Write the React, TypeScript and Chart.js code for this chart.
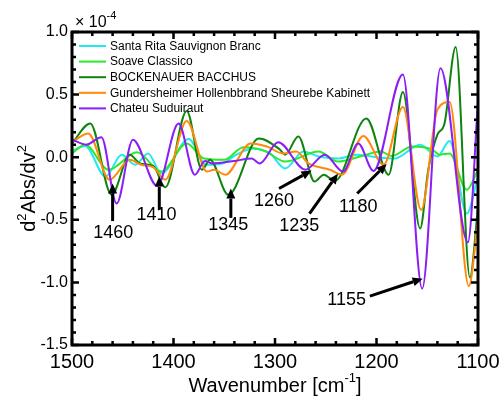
import React, { useEffect, useRef } from "react";
import { Chart, registerables } from "chart.js";
Chart.register(...registerables);

const seriesNames = [
  "Santa Rita Sauvignon Branc",
  "Soave Classico",
  "BOCKENAUER BACCHUS",
  "Gundersheimer Hollenbbrand Sheurebe Kabinett",
  "Chateu Suduiraut",
];
const seriesColors = ["#22E8F0", "#2EE82E", "#0E840E", "#FF8A0A", "#8A1EF5"];

const cyanWn = [1500, 1487, 1467, 1451, 1438, 1425, 1412, 1385, 1368, 1352, 1338, 1322, 1305, 1290, 1272, 1257, 1237, 1220, 1200, 1182, 1157, 1140, 1128, 1111, 1100];
const cyanVal = [0.05, 0.09, -0.155, 0.02, -0.06, 0.03, -0.13, 0.145, -0.06, -0.05, 0.02, 0.07, 0.03, -0.09, 0.045, 0.005, -0.01, 0.02, 0.0, -0.01, 0.10, 0.005, 0.13, -0.45, -0.15];

const lgreenWn = [1500, 1487, 1464, 1436, 1412, 1387, 1370, 1350, 1331, 1310, 1290, 1257, 1238, 1216, 1196, 1185, 1165, 1145, 1138, 1128, 1111, 1100];
const lgreenVal = [0.03, 0.10, -0.10, 0.04, -0.115, 0.11, -0.01, -0.02, 0.08, 0.05, -0.035, 0.045, -0.035, 0.005, 0.045, 0.01, 0.085, 0.06, 0.02, 0.03, -0.26, -0.1];

const dgreenWn = [1500, 1482, 1461, 1443, 1433, 1420, 1408, 1387, 1372, 1364, 1346, 1316, 1295, 1290, 1277, 1261, 1252, 1241, 1210, 1188, 1174, 1157, 1149, 1140, 1133, 1122, 1108, 1100];
const dgreenVal = [0.11, 0.27, -0.30, 0.02, -0.05, -0.07, -0.24, 0.37, -0.10, -0.02, -0.30, 0.15, 0.06, 0.02, 0.165, -0.195, -0.14, -0.19, 0.31, -0.14, 0.52, -0.57, -0.1, 0.18, 0.27, 0.88, -0.96, -0.4];

const orangeWn = [1500, 1484, 1463, 1443, 1432, 1420, 1408, 1387, 1367, 1360, 1349, 1324, 1308, 1292, 1279, 1267, 1246, 1234, 1213, 1193, 1174, 1156, 1140, 1128, 1109, 1100];
const orangeVal = [0.12, 0.19, -0.18, -0.02, -0.06, -0.08, -0.18, 0.29, -0.115, -0.10, -0.14, 0.11, 0.085, 0.03, 0.045, -0.05, -0.10, -0.14, 0.17, -0.06, 0.40, -0.42, 0.38, 0.44, -1.03, -0.5];

const purpleWn = [1500, 1486, 1471, 1456, 1440, 1416, 1395, 1379, 1369, 1362, 1340, 1323, 1315, 1297, 1270, 1251, 1233, 1218, 1203, 1174, 1155, 1137, 1110, 1100];
const purpleVal = [0.14, 0.10, 0.16, -0.37, 0.14, -0.23, 0.27, -0.14, -0.03, -0.05, -0.03, -0.01, -0.05, 0.12, -0.10, 0.02, -0.115, 0.11, -0.11, 0.66, -1.05, 0.71, -0.68, 0.45];

const xTickValues = [1500, 1400, 1300, 1200, 1100];
const yTickValues = [1.0, 0.5, 0, -0.5, -1.0, -1.5];
const yTickLabels = ["1.0", "0.5", "0.0", "-0.5", "-1.0", "-1.5"];

const annLabels = ["1460", "1410", "1345", "1260", "1235", "1180", "1155"];
const annTipX = [1460, 1414, 1343.5, 1264, 1238, 1190, 1154.5];
const annTipY = [-0.21, -0.155, -0.25, -0.107, -0.133, -0.054, -0.97];
const annTailX = [1460, 1414, 1343.5, 1296, 1266, 1219, 1206.5];
const annTailY = [-0.51, -0.42, -0.485, -0.25, -0.45, -0.29, -1.11];
const annTextX = [1459.3, 1416.8, 1346, 1301, 1276, 1218, 1229.5];
const annTextY = [-0.607, -0.465, -0.54, -0.35, -0.55, -0.4, -1.14];

const FONT = "'Liberation Sans', Arial, Helvetica, sans-serif";

function toPoints(xs: number[], ys: number[]) {
  return xs.map((x, i) => ({ x, y: ys[i] }));
}

const decorPlugin = {
  id: "decor",
  afterDatasetsDraw(chart: any) {
    const ctx = chart.ctx as CanvasRenderingContext2D;
    const { left, right, top, bottom } = chart.chartArea;
    const xs = chart.scales.x;
    const ys = chart.scales.y;
    ctx.save();
    // annotations
    ctx.strokeStyle = "#000";
    ctx.fillStyle = "#000";
    for (let i = 0; i < annLabels.length; i++) {
      const tx = xs.getPixelForValue(annTipX[i]);
      const ty = ys.getPixelForValue(annTipY[i]);
      const sx = xs.getPixelForValue(annTailX[i]);
      const sy = ys.getPixelForValue(annTailY[i]);
      const ang = Math.atan2(ty - sy, tx - sx);
      const hl = 10, hw = 4.5;
      const bx = tx - hl * Math.cos(ang);
      const by = ty - hl * Math.sin(ang);
      ctx.lineWidth = 3;
      ctx.beginPath();
      ctx.moveTo(sx, sy);
      ctx.lineTo(bx, by);
      ctx.stroke();
      ctx.beginPath();
      ctx.moveTo(tx, ty);
      ctx.lineTo(bx + hw * Math.sin(ang), by - hw * Math.cos(ang));
      ctx.lineTo(bx - hw * Math.sin(ang), by + hw * Math.cos(ang));
      ctx.closePath();
      ctx.fill();
      ctx.font = `18px ${FONT}`;
      ctx.textAlign = "center";
      ctx.textBaseline = "middle";
      ctx.fillText(annLabels[i], xs.getPixelForValue(annTextX[i]), ys.getPixelForValue(annTextY[i]));
    }
    // frame
    ctx.lineWidth = 3;
    ctx.strokeRect(left, top, right - left, bottom - top);
    // ticks
    ctx.lineWidth = 2.5;
    for (let v = 1100; v <= 1500; v += 20) {
      const p = xs.getPixelForValue(v);
      const len = v % 100 === 0 ? 7 : 4;
      ctx.beginPath();
      ctx.moveTo(p, bottom);
      ctx.lineTo(p, bottom - len);
      ctx.moveTo(p, top);
      ctx.lineTo(p, top + len);
      ctx.stroke();
    }
    for (let k = -15; k <= 10; k++) {
      const p = ys.getPixelForValue(k / 10);
      const len = k % 5 === 0 ? 7 : 4;
      ctx.beginPath();
      ctx.moveTo(left, p);
      ctx.lineTo(left + len, p);
      ctx.moveTo(right, p);
      ctx.lineTo(right - len, p);
      ctx.stroke();
    }
    // legend
    ctx.font = `12px ${FONT}`;
    ctx.textAlign = "left";
    ctx.textBaseline = "middle";
    chart.data.datasets.forEach((ds: any, i: number) => {
      const y = top + 14 + i * 15.6;
      ctx.strokeStyle = ds.borderColor;
      ctx.lineWidth = 2;
      ctx.beginPath();
      ctx.moveTo(left + 7, y);
      ctx.lineTo(left + 34, y);
      ctx.stroke();
      ctx.fillStyle = "#000";
      ctx.fillText(ds.label, left + 38, y + 0.5);
    });
    // multiplier
    ctx.fillStyle = "#000";
    ctx.font = `16px ${FONT}`;
    ctx.textBaseline = "alphabetic";
    ctx.fillText("\u00d7 10", left + 3, top - 5);
    const w = ctx.measureText("\u00d7 10").width;
    ctx.font = `11px ${FONT}`;
    ctx.fillText("-4", left + 3 + w, top - 13);
    // x title
    const cx = (left + right) / 2;
    const t1 = "Wavenumber [cm";
    const t2 = "-1";
    const t3 = "]";
    ctx.font = `20px ${FONT}`;
    const w1 = ctx.measureText(t1).width;
    const w3 = ctx.measureText(t3).width;
    ctx.font = `13px ${FONT}`;
    const w2 = ctx.measureText(t2).width;
    const x0 = cx - (w1 + w2 + w3) / 2;
    const by = 392;
    ctx.font = `20px ${FONT}`;
    ctx.fillText(t1, x0, by);
    ctx.font = `13px ${FONT}`;
    ctx.fillText(t2, x0 + w1, by - 10);
    ctx.font = `20px ${FONT}`;
    ctx.fillText(t3, x0 + w1 + w2, by);
    // y title
    ctx.translate(35, (top + bottom) / 2);
    ctx.rotate(-Math.PI / 2);
    const parts: [string, number, number][] = [
      ["d", 20, 0], ["2", 13, -9], ["Abs/dv", 20, 0], ["2", 13, -9],
    ];
    let tw = 0;
    for (const [s, f] of parts) { ctx.font = `${f}px ${FONT}`; tw += ctx.measureText(s).width; }
    let xx = -tw / 2;
    for (const [s, f, dy] of parts) {
      ctx.font = `${f}px ${FONT}`;
      ctx.fillText(s, xx, dy);
      xx += ctx.measureText(s).width;
    }
    ctx.restore();
  },
};

export default function App() {
  const ref = useRef<HTMLCanvasElement | null>(null);
  useEffect(() => {
    if (!ref.current) return;
    const wns = [cyanWn, lgreenWn, dgreenWn, orangeWn, purpleWn];
    const vals = [cyanVal, lgreenVal, dgreenVal, orangeVal, purpleVal];
    const chart = new Chart(ref.current, {
      type: "line",
      data: {
        datasets: seriesNames.map((name, i) => ({
          label: name,
          data: toPoints(wns[i], vals[i]),
          borderColor: seriesColors[i],
          backgroundColor: seriesColors[i],
          borderWidth: 2,
          pointRadius: 0,
          cubicInterpolationMode: "monotone" as const,
          fill: false,
          order: 5 - i,
        })),
      },
      options: {
        responsive: false,
        animation: false,
        events: [],
        layout: { padding: { top: 32, right: 22, left: 0, bottom: 0 } },
        plugins: { legend: { display: false }, tooltip: { enabled: false }, title: { display: false } },
        scales: {
          x: {
            type: "linear",
            min: 1100,
            max: 1500,
            reverse: true,
            grid: { display: false },
            border: { display: false },
            afterBuildTicks: (s: any) => { s.ticks = xTickValues.map((v) => ({ value: v })); },
            afterFit: (s: any) => { s.height = 55; },
            ticks: { color: "#000", font: { family: FONT, size: 20 }, padding: -3, maxRotation: 0, callback: (v: any) => String(v) },
          },
          y: {
            type: "linear",
            min: -1.5,
            max: 1.0,
            grid: { display: false },
            border: { display: false },
            afterBuildTicks: (s: any) => { s.ticks = yTickValues.map((v) => ({ value: v })); },
            afterFit: (s: any) => { s.width = 72; },
            ticks: {
              color: "#000",
              font: { family: FONT, size: 16 },
              padding: -4,
              callback: (v: any) => {
                const idx = yTickValues.findIndex((t) => Math.abs(t - Number(v)) < 1e-9);
                return idx >= 0 ? yTickLabels[idx] : "";
              },
            },
          },
        },
      },
      plugins: [decorPlugin],
    });
    return () => chart.destroy();
  }, []);
  return (
    <div style={{ position: "absolute", left: 0, top: 0, width: 500, height: 400, background: "#fff" }}>
      <canvas ref={ref} width={500} height={400} style={{ width: 500, height: 400, display: "block" }} />
    </div>
  );
}
